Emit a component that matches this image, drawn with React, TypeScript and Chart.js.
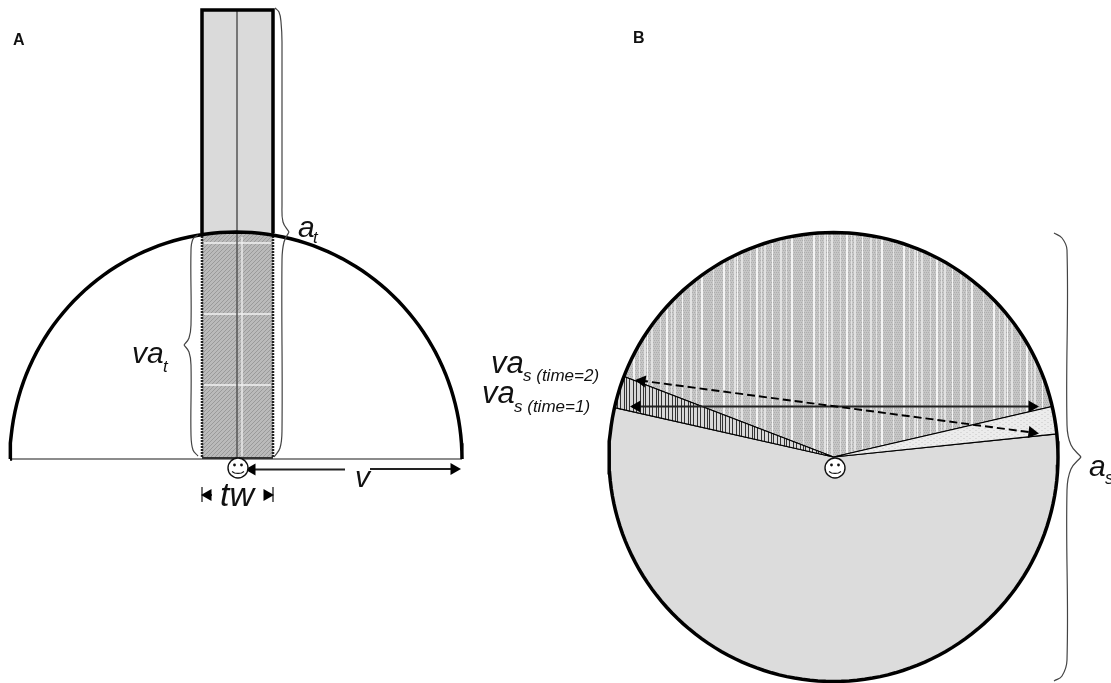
import React, { useEffect, useRef } from "react";
import { Chart, registerables } from "chart.js";

Chart.register(...registerables);

type P = { x: number; y: number };
const pts = (list: number[][]): P[] => list.map(([x, y]) => ({ x, y }));

// Panel A geometry
const domeCentre = [236, 459];
const domeRadii = [226, 227];
const tunnelX = [202, 273];
const tunnelTop = 10;
const tunnelHorizon = 233;
const tunnelBottom = 458;
const tunnelCentreX = 237;
const gridRowsY = [243, 314, 385];
const gridColumnX = 242;

// Panel B geometry
const discCentre = [833.5, 457];
const discRadius = 224.5;
const sectorAngles = { leftA: 192.7, leftB: 201, rightA: 347, rightB: 354.1 };

// Braces, each split at its tip
const braces = [
  [[275, 8], [279, 12], [281, 22], [282, 42], [282, 205], [283, 222], [289, 232]],
  [[289, 232], [284, 242], [282, 260], [282, 430], [280, 448], [274, 457]],
  [[198, 235], [193, 239], [191, 250], [191, 325], [189, 338], [184, 345]],
  [[184, 345], [189, 352], [191, 365], [191, 435], [193, 450], [198, 456]],
  [[1054, 233], [1062, 238], [1067, 250], [1067, 425], [1071, 445], [1081, 457]],
  [[1081, 457], [1071, 469], [1067, 490], [1067, 660], [1062, 676], [1054, 681]],
];

// Arrows
const arrowLines = [
  [[345, 469.5], [250, 469.5]],
  [[370, 469], [452, 469]],
  [[212, 495], [204, 495]],
  [[264, 495], [271, 495]],
  [[632, 406.5], [1033, 406.5]],
];
const dashedArrow = [[640, 380.5], [1032, 432.5]];
const arrowHeads = [
  [252, 469.5, -90],
  [454, 469, 90],
  [208, 495, -90],
  [267, 495, 90],
  [637, 406.5, -90],
  [1032, 406.5, 90],
  [642, 381, -82.5],
  [1032, 432.5, 97.5],
];
const tickBars = [
  [[202, 487], [202, 502]],
  [[273, 487], [273, 502]],
];

// Faces
const faces = [[238, 468], [835, 468]];
const eyeOffsets = [[-3.5, -3], [3.5, -3]];
const mouth = [[-6, 3.5], [-3.5, 5], [0, 5.3], [3.5, 5], [6, 3.5]];

// Text
const panelLetters = ["A", "B"];
const panelLetterPos = [[13, 45], [633, 43]];
const mainLabels = ["va", "a", "v", "tw", "va", "va", "a"];
const mainLabelPos = [[132, 363, 30], [298, 237, 30], [355, 487, 30], [220, 506, 34], [491, 373, 31], [482, 403, 31], [1089, 476, 30]];
const subLabels = ["t", "t", "s (time=2)", "s (time=1)", "s"];
const subLabelPos = [[163, 372, 17], [313, 243, 17], [523, 381, 17], [514, 412, 17], [1105, 484, 18]];

const arc = (cx: number, cy: number, rx: number, ry: number, from: number, to: number): P[] => {
  const out: P[] = [];
  const n = Math.ceil((to - from) / 2);
  for (let i = 0; i <= n; i++) {
    const a = ((from + ((to - from) * i) / n) * Math.PI) / 180;
    out.push({ x: cx + rx * Math.cos(a), y: cy + ry * Math.sin(a) });
  }
  return out;
};

const makePattern = (w: number, h: number, paint: (c: CanvasRenderingContext2D) => void) => {
  const cv = document.createElement("canvas");
  cv.width = w;
  cv.height = h;
  const c = cv.getContext("2d")!;
  paint(c);
  return c.createPattern(cv, "repeat")!;
};

const diagonal = (base: string, ink: string) => (c: CanvasRenderingContext2D) => {
  c.fillStyle = base;
  c.fillRect(0, 0, 4, 4);
  c.fillStyle = ink;
  [[0, 3], [1, 2], [2, 1], [3, 0]].forEach(([x, y]) => c.fillRect(x, y, 1, 1));
};

const lightStripes = [3, 9, 14, 17, 21, 30, 36, 41, 44, 52, 60, 66, 71, 83];
const darkStripes = [0, 3, 5, 9, 12, 16, 18, 21, 25, 28];

export default function App() {
  const ref = useRef<HTMLCanvasElement>(null);
  useEffect(() => {
    const hatchA = makePattern(4, 4, diagonal("#bababa", "#9a9a9a"));
    const hatchLight = makePattern(6, 4, (c) => {
      c.fillStyle = "#ececec";
      c.fillRect(0, 0, 6, 4);
      c.fillStyle = "#d8d8d8";
      c.fillRect(0, 0, 2, 1);
      c.fillRect(3, 2, 2, 1);
    });
    const hatchUpper = makePattern(90, 4, (c) => {
      c.fillStyle = "#c6c6c6";
      c.fillRect(0, 0, 90, 4);
      c.fillStyle = "#adadad";
      for (let x = 0; x < 90; x += 2) {
        c.fillRect(x, 0, 1, 1);
        c.fillRect(x + 1, 2, 1, 1);
      }
      lightStripes.forEach((x, i) => {
        c.fillStyle = i % 3 === 0 ? "#f4f4f4" : "#e2e2e2";
        c.fillRect(x, 0, i % 2 ? 1 : 2, 4);
      });
    });
    const hatchDark = makePattern(32, 2, (c) => {
      c.fillStyle = "#d8d8d8";
      c.fillRect(0, 0, 32, 2);
      c.fillStyle = "#333";
      darkStripes.forEach((x) => c.fillRect(x, 0, 1, 2));
    });

    const line = (list: P[], extra: any = {}) => ({
      data: list,
      showLine: true,
      pointRadius: 0,
      borderColor: "#000",
      borderWidth: 1.2,
      fill: false,
      tension: 0,
      ...extra,
    });

    const [dx, dy] = domeCentre;
    const [rx, ry] = domeRadii;
    const [cx, cy] = discCentre;
    const R = discRadius;
    const apex = { x: cx, y: cy };
    const sec = (a: number, b: number) => [apex, ...arc(cx, cy, R, R, a, b), apex];
    const S = sectorAngles;
    const rect = (x0: number, y0: number, x1: number, y1: number): P[] =>
      pts([[x0, y0], [x1, y0], [x1, y1], [x0, y1], [x0, y0]]);

    // Listed back to front.
    const layers: any[] = [
      // Panel A
      line(rect(tunnelX[0], tunnelTop, tunnelX[1], tunnelHorizon), { fill: "shape", backgroundColor: "#dadada", borderWidth: 0 }),
      line(rect(tunnelX[0], tunnelHorizon, tunnelX[1], tunnelBottom), { fill: "shape", backgroundColor: hatchA, borderWidth: 0 }),
      ...gridRowsY.map((y) => line(pts([[tunnelX[0] + 2, y], [tunnelX[1] - 2, y]]), { borderColor: "#f2f2f2", borderWidth: 1.3 })),
      line(pts([[gridColumnX, tunnelHorizon + 4], [gridColumnX, tunnelBottom - 2]]), { borderColor: "#f2f2f2", borderWidth: 1.3 }),
      line(pts([[tunnelCentreX, tunnelTop], [tunnelCentreX, tunnelBottom]]), { borderColor: "#555", borderWidth: 1.5 }),
      line(pts([[tunnelX[0], tunnelHorizon], [tunnelX[0], tunnelBottom]]), { borderColor: "#222", borderWidth: 2.5, borderDash: [2, 1] }),
      line(pts([[tunnelX[1], tunnelHorizon], [tunnelX[1], tunnelBottom]]), { borderColor: "#222", borderWidth: 2.5, borderDash: [2, 1] }),
      line(pts([[tunnelX[0], tunnelHorizon], [tunnelX[0], tunnelTop], [tunnelX[1], tunnelTop], [tunnelX[1], tunnelHorizon]]), { borderWidth: 3.5 }),
      line(pts([[dx - rx, dy], [dx + rx, dy]]), { borderColor: "#666", borderWidth: 1.6 }),
      line(pts([[tunnelX[0], tunnelBottom], [tunnelX[1], tunnelBottom]]), { borderColor: "#333", borderWidth: 2 }),
      line(arc(dx, dy, rx, ry, 180, 360), { borderWidth: 3.5 }),
      // Panel B
      line(sec(S.rightB, S.leftA + 360), { fill: "shape", backgroundColor: "#dcdcdc", borderWidth: 1.2 }),
      line(sec(S.leftB, S.rightA), { fill: "shape", backgroundColor: hatchUpper, borderWidth: 1.2 }),
      line(sec(S.leftA, S.leftB), { fill: "shape", backgroundColor: hatchDark, borderWidth: 1.2 }),
      line(sec(S.rightA, S.rightB), { fill: "shape", backgroundColor: hatchLight, borderWidth: 1.2 }),
      line(arc(cx, cy, R, R, 0, 360), { borderWidth: 3.5 }),
      // Braces
      ...braces.map((b) => line(pts(b), { borderColor: "#444", borderWidth: 1.2, tension: 0.4 })),
      // Arrows
      ...arrowLines.map((a) => line(pts(a), { borderWidth: 1.8, borderColor: "#222" })),
      ...tickBars.map((a) => line(pts(a), { borderWidth: 1.3, borderColor: "#222" })),
      line(pts(dashedArrow), { borderWidth: 1.9, borderDash: [8, 4] }),
      ...arrowHeads.map(([x, y, r]) => ({
        data: [{ x, y }],
        pointStyle: "triangle",
        rotation: r,
        pointRadius: 7,
        backgroundColor: "#000",
        borderColor: "#000",
        borderWidth: 0,
      })),
      // Faces
      ...faces.flatMap(([fx, fy]) => [
        {
          data: [{ x: fx, y: fy }],
          pointStyle: "circle",
          pointRadius: 10,
          backgroundColor: "#fff",
          borderColor: "#111",
          borderWidth: 1.4,
        },
        {
          data: eyeOffsets.map(([ox, oy]) => ({ x: fx + ox, y: fy + oy })),
          pointStyle: "circle",
          pointRadius: 1.4,
          backgroundColor: "#111",
          borderWidth: 0,
        },
        line(mouth.map(([ox, oy]) => ({ x: fx + ox, y: fy + oy })), { borderColor: "#111", borderWidth: 1.2 }),
      ]),
    ];

    const texts = {
      id: "texts",
      afterDatasetsDraw(chart: any) {
        const { ctx, scales } = chart;
        const put = (t: string, x: number, y: number, font: string) => {
          ctx.font = font;
          ctx.fillText(t, scales.x.getPixelForValue(x), scales.y.getPixelForValue(y));
        };
        ctx.save();
        ctx.fillStyle = "#111";
        ctx.textAlign = "left";
        ctx.textBaseline = "alphabetic";
        panelLetters.forEach((t, i) => put(t, panelLetterPos[i][0], panelLetterPos[i][1], 'bold 16px "Liberation Sans"'));
        mainLabels.forEach((t, i) => {
          const [x, y, s] = mainLabelPos[i];
          put(t, x, y, `italic ${s}px "Liberation Sans"`);
        });
        subLabels.forEach((t, i) => {
          const [x, y, s] = subLabelPos[i];
          put(t, x, y, `italic ${s}px "Liberation Sans"`);
        });
        ctx.restore();
      },
    };

    const chart = new Chart(ref.current!, {
      type: "scatter",
      data: { datasets: [...layers].reverse() },
      options: {
        animation: false,
        responsive: false,
        layout: { padding: 0, autoPadding: false },
        plugins: { legend: { display: false }, tooltip: { enabled: false }, title: { display: false } },
        scales: {
          x: { type: "linear", min: 0, max: 1111, display: false },
          y: { type: "linear", min: 0, max: 683, reverse: true, display: false },
        },
      },
      plugins: [texts],
    } as any);
    return () => chart.destroy();
  }, []);
  return (
    <div style={{ position: "fixed", left: 0, top: 0, width: 1111, height: 683, background: "#fff" }}>
      <canvas ref={ref} width={1111} height={683} style={{ display: "block" }} />
    </div>
  );
}
